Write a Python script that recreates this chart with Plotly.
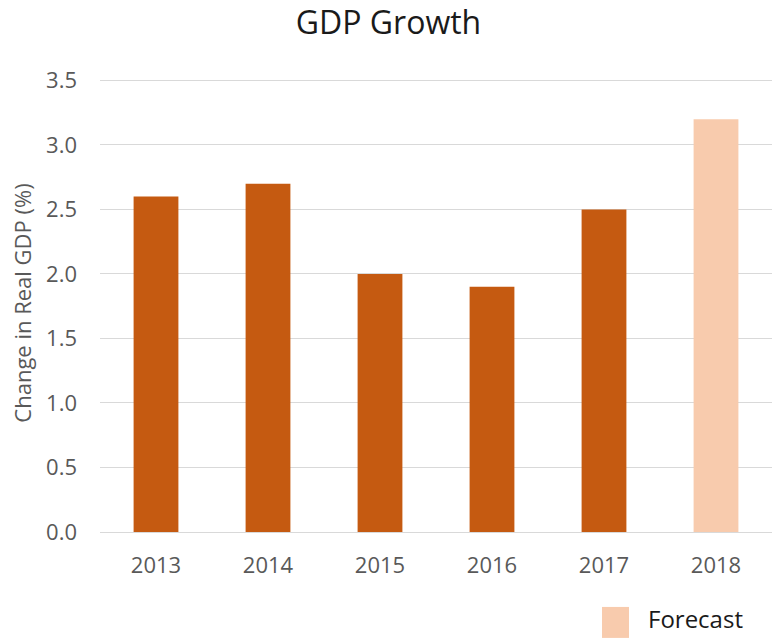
import plotly.graph_objects as go

years = ["2013", "2014", "2015", "2016", "2017", "2018"]
growth = [2.6, 2.7, 2.0, 1.9, 2.5, 3.2]
is_forecast = [False, False, False, False, False, True]

actual_color = "#C55A11"
forecast_color = "#F8CBAD"
bar_colors = [forecast_color if f else actual_color for f in is_forecast]

font_family = "Open Sans, Noto Sans, sans-serif"
grey = "#595959"

fig = go.Figure()
fig.add_trace(go.Bar(
    x=years,
    y=growth,
    marker=dict(color=bar_colors, line=dict(width=0)),
    showlegend=False,
    hovertemplate="%{x}: %{y:.1f}%<extra></extra>",
))

fig.update_layout(
    width=777,
    height=640,
    margin=dict(l=100, r=5, t=74, b=108),
    paper_bgcolor="white",
    plot_bgcolor="white",
    bargap=0.6,
    font=dict(family=font_family, color=grey),
    title=dict(
        text="GDP Growth",
        x=0.5,
        xanchor="center",
        xref="container",
        y=0.965,
        yanchor="middle",
        yref="container",
        font=dict(size=32, color="#1a1a1a", family=font_family),
    ),
    xaxis=dict(
        type="category",
        showgrid=False,
        showline=False,
        zeroline=False,
        ticks="",
        tickfont=dict(size=22, color=grey),
        ticklabelstandoff=18,
    ),
    yaxis=dict(
        range=[0, 3.55],
        tickmode="array",
        tickvals=[0, 0.5, 1.0, 1.5, 2.0, 2.5, 3.0, 3.5],
        ticktext=["0.0", "0.5", "1.0", "1.5", "2.0", "2.5", "3.0", "3.5"],
        showgrid=True,
        gridcolor="#D9D9D9",
        gridwidth=1,
        zeroline=True,
        zerolinecolor="#D9D9D9",
        zerolinewidth=1,
        showline=False,
        ticks="",
        tickfont=dict(size=22, color=grey),
        ticklabelstandoff=22,
        title=dict(
            text="Change in Real GDP (%)",
            font=dict(size=22, color=grey),
            standoff=8,
        ),
    ),
)

# Legend entry for the forecast year
fig.add_shape(
    type="rect",
    xref="paper", yref="paper",
    x0=(602 - 100) / 672, x1=(629 - 100) / 672,
    y0=-(607 - 532) / 458.4, y1=-(638 - 532) / 458.4,
    fillcolor=forecast_color,
    line=dict(width=0),
)
fig.add_annotation(
    text="Forecast",
    xref="paper", yref="paper",
    x=(646 - 100) / 672, y=-(619 - 532) / 458.4,
    xanchor="left", yanchor="middle",
    showarrow=False,
    font=dict(size=24, color="#1a1a1a", family=font_family),
)

fig.write_html("out.html")
